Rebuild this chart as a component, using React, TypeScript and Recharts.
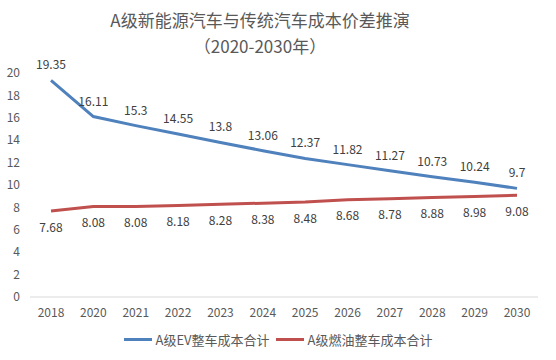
import React from 'react';
import { LineChart, Line, XAxis, YAxis, LabelList } from 'recharts';

const years = ['2018', '2020', '2021', '2022', '2023', '2024', '2025', '2026', '2027', '2028', '2029', '2030'];
const evCost = [19.35, 16.11, 15.3, 14.55, 13.8, 13.06, 12.37, 11.82, 11.27, 10.73, 10.24, 9.7];
const iceCost = [7.68, 8.08, 8.08, 8.18, 8.28, 8.38, 8.48, 8.68, 8.78, 8.88, 8.98, 9.08];
const yTicks = [0, 2, 4, 6, 8, 10, 12, 14, 16, 18, 20];

const EV_NAME = 'A级EV整车成本合计';
const ICE_NAME = 'A级燃油整车成本合计';

const data = years.map((year, i) => ({ year, ev: evCost[i], ice: iceCost[i] }));

const FONT = '"Noto Sans CJK SC", "Open Sans", sans-serif';
const BLUE = '#4f81bd';
const RED = '#c0504d';

const LegendBox = () => (
  <div style={{ display: 'flex', justifyContent: 'center', alignItems: 'center', fontSize: 13, color: '#595959', fontFamily: FONT }}>
    <span style={{ display: 'inline-block', width: 28, height: 3, background: BLUE, marginRight: 4 }} />
    <span style={{ marginRight: 6 }}>{EV_NAME}</span>
    <span style={{ display: 'inline-block', width: 28, height: 3, background: RED, marginRight: 4 }} />
    <span>{ICE_NAME}</span>
  </div>
);

const App = () => (
  <div style={{ position: 'absolute', left: 0, top: 0, width: 556, height: 360, background: '#fff', fontFamily: FONT }}>
    <div style={{ position: 'absolute', top: 7, left: 0, width: 520, textAlign: 'center', color: '#595959', fontSize: 17, lineHeight: '26px' }}>
      <div>A级新能源汽车与传统汽车成本价差推演</div>
      <div>（2020-2030年）</div>
    </div>
    <LineChart width={556} height={330} data={data} margin={{ top: 73, right: 18, left: 0, bottom: 0 }}>
      <XAxis
        dataKey="year"
        height={33}
        padding={{ left: 21, right: 21 }}
        tick={{ fontSize: 12, fill: '#595959', fontFamily: FONT }}
        axisLine={{ stroke: '#d9d9d9' }}
        tickLine={false}
        tickMargin={5}
      />
      <YAxis
        domain={[0, 20]}
        ticks={yTicks}
        width={30}
        tick={{ fontSize: 12, fill: '#595959', fontFamily: FONT }}
        axisLine={false}
        tickLine={false}
        tickMargin={4}
      />
      <Line dataKey="ev" name={EV_NAME} stroke={BLUE} strokeWidth={3} dot={false} isAnimationActive={false}>
        <LabelList dataKey="ev" position="top" offset={11} style={{ fontSize: 12, fill: '#404040', fontFamily: FONT }} />
      </Line>
      <Line dataKey="ice" name={ICE_NAME} stroke={RED} strokeWidth={3} dot={false} isAnimationActive={false}>
        <LabelList dataKey="ice" position="bottom" offset={12} style={{ fontSize: 12, fill: '#404040', fontFamily: FONT }} />
      </Line>
    </LineChart>
    <div style={{ position: 'absolute', top: 330, left: 0, width: 556 }}>
      <LegendBox />
    </div>
  </div>
);

export default App;
